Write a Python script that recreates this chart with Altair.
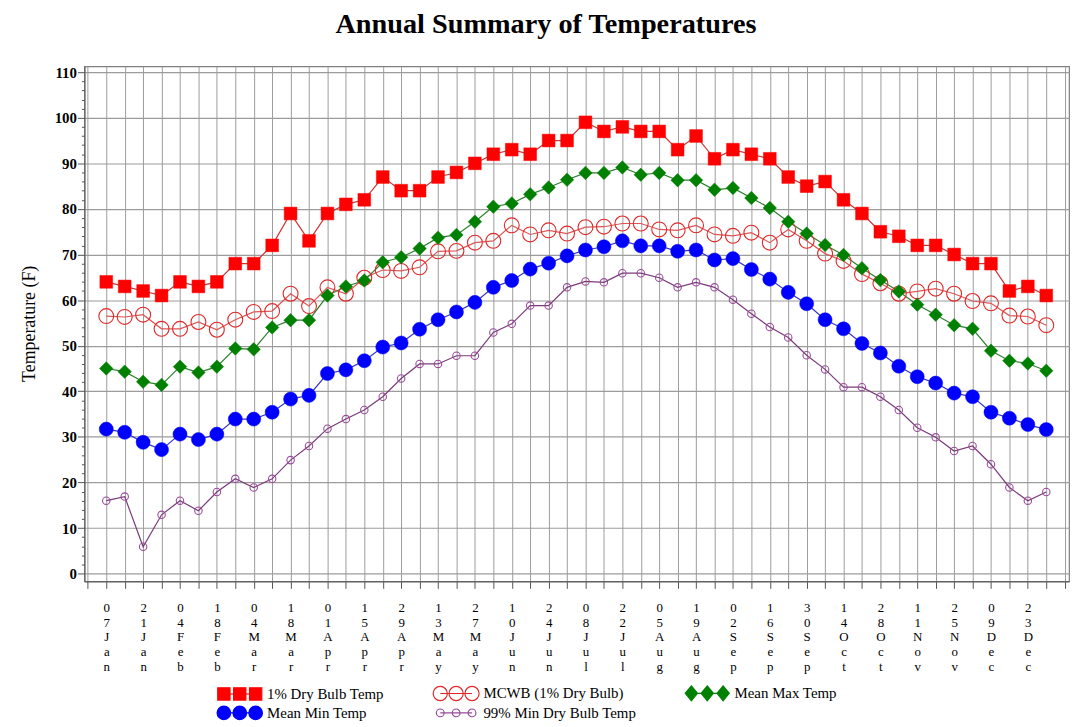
import json
import altair as alt
import pandas as pd

# ---------------- data ----------------
tick_labels = ["07 Jan", "21 Jan", "04 Feb", "18 Feb", "04 Mar", "18 Mar", "01 Apr",
               "15 Apr", "29 Apr", "13 May", "27 May", "10 Jun", "24 Jun", "08 Jul",
               "22 Jul", "05 Aug", "19 Aug", "02 Sep", "16 Sep", "30 Sep", "14 Oct",
               "28 Oct", "11 Nov", "25 Nov", "09 Dec", "23 Dec"]

series_names = ["1% Dry Bulb Temp", "MCWB (1% Dry Bulb)", "Mean Max Temp",
                "Mean Min Temp", "99% Min Dry Bulb Temp"]

dry_bulb_1 = [64, 63, 62, 61, 64, 63, 64, 68, 68, 72, 79, 73, 79, 81, 82, 87, 84, 84,
              87, 88, 90, 92, 93, 92, 95, 95, 99, 97, 98, 97, 97, 93, 96, 91, 93, 92,
              91, 87, 85, 86, 82, 79, 75, 74, 72, 72, 70, 68, 68, 62, 63, 61]
mcwb = [56.5, 56.3, 56.8, 53.7, 53.7, 55.2, 53.5, 55.7, 57.4, 57.6, 61.4, 58.7, 62.8,
        61.4, 64.9, 66.6, 66.4, 67.2, 70.7, 70.8, 72.6, 73.0, 76.4, 74.4, 75.3, 74.6,
        76.0, 76.1, 76.8, 76.8, 75.5, 75.3, 76.4, 74.4, 74.1, 74.8, 72.6, 75.5, 73.0,
        70.2, 68.6, 65.7, 63.7, 61.4, 61.9, 62.5, 61.4, 59.8, 59.3, 56.6, 56.4, 54.5]
mean_max = [45.0, 44.3, 42.1, 41.4, 45.4, 44.1, 45.4, 49.4, 49.2, 54.0, 55.6, 55.6,
            61.0, 63.0, 64.3, 68.3, 69.4, 71.3, 73.7, 74.3, 77.2, 80.5, 81.2, 83.2,
            84.7, 86.4, 87.9, 87.9, 89.1, 87.5, 87.9, 86.3, 86.3, 84.2, 84.6, 82.4,
            80.2, 77.2, 74.6, 72.1, 69.9, 67.0, 64.4, 61.9, 59.0, 56.8, 54.5, 53.7,
            48.9, 46.7, 46.1, 44.5]
mean_min = [31.7, 31.0, 28.8, 27.2, 30.6, 29.4, 30.6, 33.9, 33.9, 35.4, 38.3, 39.1,
            43.9, 44.7, 46.7, 49.7, 50.6, 53.6, 55.7, 57.4, 59.5, 62.8, 64.3, 66.8,
            68.1, 69.7, 71.0, 71.7, 73.0, 71.9, 71.9, 70.7, 71.0, 68.8, 69.1, 66.7,
            64.6, 61.7, 59.2, 55.7, 53.7, 50.5, 48.4, 45.5, 43.2, 41.8, 39.6, 38.8,
            35.4, 34.1, 32.7, 31.6]
min_99 = [16.0, 16.9, 5.9, 12.9, 16.0, 13.8, 17.9, 20.8, 18.9, 20.8, 24.9, 28.0, 31.8,
          33.9, 35.9, 38.8, 42.8, 46.0, 46.0, 47.8, 47.8, 52.9, 54.8, 58.8, 58.8, 62.8,
          64.1, 63.9, 65.9, 65.9, 64.9, 62.8, 63.9, 62.8, 60.1, 57.0, 54.1, 51.8, 47.9,
          44.8, 40.9, 40.9, 38.8, 35.9, 32.0, 29.9, 26.9, 28.0, 24.0, 18.9, 16.0, 17.9]

all_values = [dry_bulb_1, mcwb, mean_max, mean_min, min_99]

rows = []
for name, vals in zip(series_names, all_values):
    for i, v in enumerate(vals):
        rows.append({"series": name, "week": i, "temp": v})
df = pd.DataFrame(rows)

# ---------------- styles ----------------
line_colors = ["#cc3333", "#dd5555", "#2f7f2f", "#3333cc", "#7a3a7a"]
marker_styles = [
    dict(shape="square", size=165, filled=True, fill="#ff0000", stroke="#ff0000", strokeWidth=0.5),
    dict(shape="circle", size=225, filled=False, fill="transparent", stroke="#e02828", strokeWidth=1.1),
    dict(shape="diamond", size=185, filled=True, fill="#008000", stroke="#008000", strokeWidth=0.5),
    dict(shape="circle", size=200, filled=True, fill="#0000ff", stroke="#0000ff", strokeWidth=0.5),
    dict(shape="circle", size=56, filled=False, fill="transparent", stroke="#9a4a9a", strokeWidth=1.1),
]

# legend glyphs: three markers joined by a line (unit = sqrt(size)/2 px)
c = [0.0, 2.4615, 4.923]


def circ(cx, r):
    return (f"M{cx - r:.3f},0A{r} {r} 0 1 0 {cx + r:.3f},0"
            f"A{r} {r} 0 1 0 {cx - r:.3f},0Z")


line_seg = f"M{c[0]},0H{c[2]}"
glyph_square = " ".join(f"M{x - 0.95:.3f},-0.95H{x + 0.95:.3f}V0.95H{x - 0.95:.3f}Z" for x in c) + " " + line_seg
glyph_open = " ".join(circ(x, 1.1) for x in c) + " " + line_seg
glyph_diamond = " ".join(f"M{x:.3f},-1.15L{x + 0.95:.3f},0L{x:.3f},1.15L{x - 0.95:.3f},0Z" for x in c) + " " + line_seg
glyph_dot = " ".join(circ(x, 1.05) for x in c) + " " + line_seg
glyph_small = " ".join(circ(x, 0.6) for x in c) + " " + line_seg
glyphs = [glyph_square, glyph_open, glyph_diamond, glyph_dot, glyph_small]
legend_fill = ["#ff0000", "transparent", "#008000", "#0000ff", "transparent"]
legend_stroke = ["#ff0000", "#e02828", "#008000", "#0000ff", "#9a4a9a"]

SERIF = "Liberation Serif"

label_expr = (
    "datum.value >= 0 && datum.value <= 50 && datum.value % 2 === 0 ? "
    f"split(replace({json.dumps(tick_labels)}[datum.value / 2], ' ', ''), '') : ''"
)

x_enc = alt.X(
    "week:Q",
    scale=alt.Scale(domain=[-1.185, 52.235], nice=False, zero=False),
    axis=alt.Axis(
        title=None, values=list(range(-1, 53)), grid=True, gridColor="#9c9c9c",
        gridWidth=1, tickSize=7, tickColor="#555555", domainColor="#555555",
        labelExpr=label_expr, labelFont=SERIF, labelFontSize=13, labelColor="black",
        labelLineHeight=15, labelBaseline="top", labelAlign="center", labelAngle=0,
        labelPadding=13, labelOverlap=False, labelFlush=False,
    ),
)
y_enc = alt.Y(
    "temp:Q",
    scale=alt.Scale(domain=[-1.7, 111.3], nice=False, zero=False),
    axis=alt.Axis(
        title="Temperature (F)", values=list(range(0, 111, 2)), grid=True,
        gridColor="#9c9c9c", gridWidth=1.2,
        gridOpacity={"condition": {"test": "datum.value % 10 === 0", "value": 1}, "value": 0},
        tickSize={"condition": {"test": "datum.value % 10 === 0", "value": 7}, "value": 3},
        tickColor="#555555", domainColor="#555555",
        labelExpr="datum.value % 10 === 0 ? datum.label : ''",
        labelFont=SERIF, labelFontSize=15, labelFontWeight="bold", labelColor="black",
        labelPadding=1, labelOverlap=False, labelFlush=False,
        titleFont=SERIF, titleFontSize=18, titleFontWeight="normal", titleColor="black",
        titleX=-55, titleY=259, titleAngle=270, titleBaseline="middle", titleAlign="center",
    ),
)

legend = alt.Legend(
    title=None, orient="none", legendX=133, legendY=624, direction="horizontal",
    columns=3, columnPadding=46, rowPadding=0,
    symbolSize=169, symbolStrokeWidth=1.2,
    labelFont=SERIF, labelFontSize=15, labelColor="black", labelOffset=36, labelLimit=400,
)

# connecting lines, one layer per series (constant colours, no legend)
layers = []
for name, col in zip(series_names, line_colors):
    layers.append(
        alt.Chart(df).transform_filter(alt.datum.series == name)
        .mark_line(strokeWidth=1.2, color=col)
        .encode(x=x_enc, y=y_enc)
    )

# markers
for name, st in zip(series_names, marker_styles):
    layers.append(
        alt.Chart(df).transform_filter(alt.datum.series == name)
        .mark_point(opacity=1, **st)
        .encode(x=x_enc, y=y_enc)
    )

# legend-carrying layer: zero-size points whose scales hold the three-marker glyphs
layers.append(
    alt.Chart(df).mark_point(opacity=1, filled=False, size=0).encode(
        x=x_enc, y=y_enc,
        shape=alt.Shape("series:N", scale=alt.Scale(domain=series_names, range=glyphs), legend=legend),
        fill=alt.Fill("series:N", scale=alt.Scale(domain=series_names, range=legend_fill), legend=legend),
        stroke=alt.Stroke("series:N", scale=alt.Scale(domain=series_names, range=legend_stroke), legend=legend),
    )
)

chart = alt.layer(*layers).properties(
    width=992, height=519,
    autosize=alt.AutoSizeParams(type="none"),
    padding={"left": 77, "top": 56, "right": 4, "bottom": 140},
    title=alt.Title("Annual Summary of Temperatures", font=SERIF, fontSize=28.5,
                    fontWeight="bold", color="black", anchor="middle", dx=-31, offset=27),
).configure_view(stroke="#7f7f7f", strokeWidth=1.2)

chart.save("out.html", embed_options={"renderer": "svg", "actions": False})
